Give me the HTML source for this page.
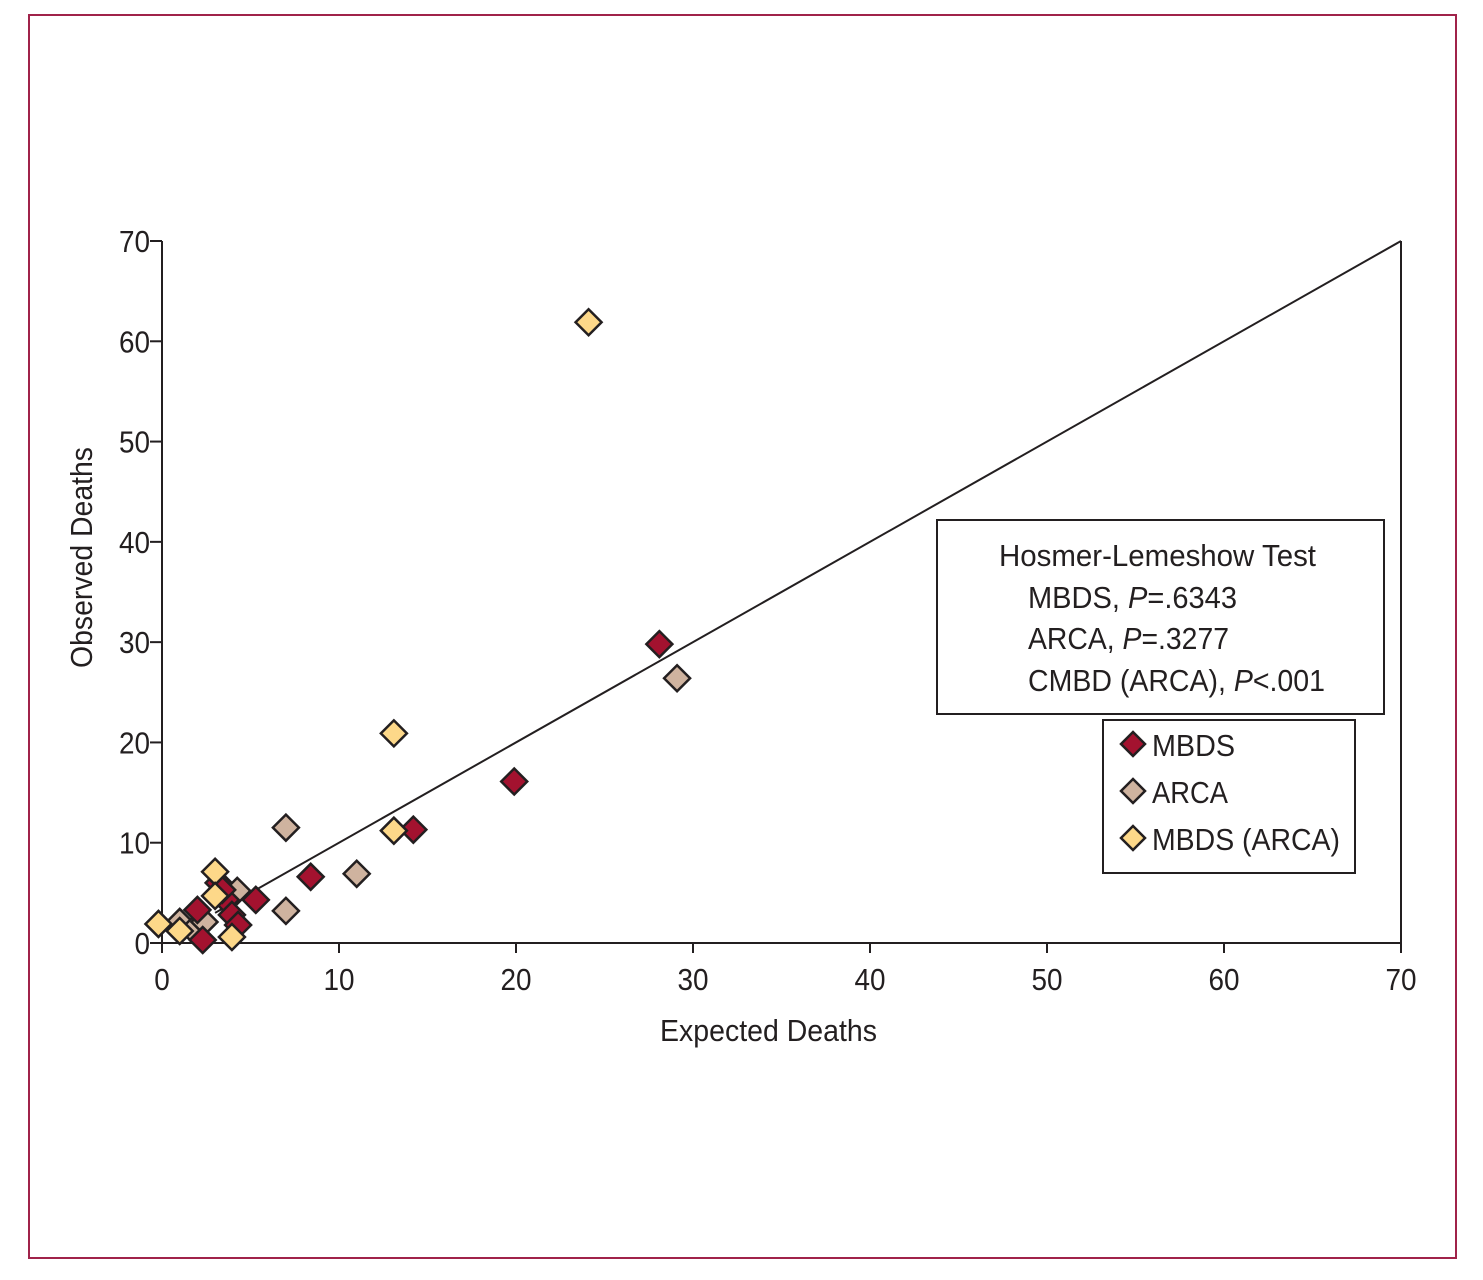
<!DOCTYPE html>
<html><head><meta charset="utf-8"><style>
body{margin:0;background:#fff}
svg text{font-family:"Liberation Sans Narrow","Liberation Sans",sans-serif;fill:#231f20}
</style></head><body>
<svg id="chart" width="1483" height="1275" xmlns="http://www.w3.org/2000/svg">
<rect x="29" y="15" width="1427" height="1243" fill="none" stroke="#a0234a" stroke-width="2"/>
<g id="axes"></g>
<g id="marks"></g>
<rect x="937" y="520" width="447" height="194" fill="#fff" stroke="#231f20" stroke-width="2"/>
<text x="999" y="566" font-size="31" textLength="317" lengthAdjust="spacingAndGlyphs">Hosmer-Lemeshow Test</text>
<text x="1028" y="608" font-size="31" textLength="209" lengthAdjust="spacingAndGlyphs">MBDS, <tspan font-style="italic">P</tspan>=.6343</text>
<text x="1028" y="649" font-size="31" textLength="201" lengthAdjust="spacingAndGlyphs">ARCA, <tspan font-style="italic">P</tspan>=.3277</text>
<text x="1028" y="691" font-size="31" textLength="297" lengthAdjust="spacingAndGlyphs">CMBD (ARCA), <tspan font-style="italic">P</tspan>&lt;.001</text>
<rect x="1103" y="720" width="252" height="153" fill="#fff" stroke="#231f20" stroke-width="2"/>
<g id="legend"></g>
<text x="660" y="1041" font-size="31" textLength="217" lengthAdjust="spacingAndGlyphs">Expected Deaths</text>
<text transform="translate(92,668) rotate(-90)" font-size="31" textLength="221" lengthAdjust="spacingAndGlyphs">Observed Deaths</text>
</svg>
<script>
const xTicks=[0,10,20,30,40,50,60,70];
const yTicks=[0,10,20,30,40,50,60,70];
const seriesNames=["MBDS","ARCA","MBDS (ARCA)"];
const seriesColors=["#a3122f","#cfb39f","#fdd889"];
const legendWidths=[83,76,188];
const mbdsX=[2.0,2.3,3.2,3.6,3.95,4.3,5.3,8.4,14.2,19.9,28.1,3.4];
const mbdsY=[3.3,0.3,6.0,4.3,2.8,1.8,4.3,6.6,11.3,16.1,29.8,5.3];
const arcaX=[1.0,1.75,2.4,4.25,7.0,7.0,11.0,29.1];
const arcaY=[2.1,1.3,2.1,5.2,11.5,3.2,6.9,26.4];
const cmbdX=[-0.2,1.0,3.0,3.0,3.95,13.1,13.1,24.1];
const cmbdY=[1.9,1.2,7.1,4.7,0.6,20.9,11.2,61.9];
const NS="http://www.w3.org/2000/svg";
const X=v=>162+v*(1401-162)/70, Y=v=>943-v*(943-241)/70;
function mk(tag,at,parent){const e=document.createElementNS(NS,tag);for(const k in at)e.setAttribute(k,at[k]);parent.appendChild(e);return e;}
const ax=document.getElementById('axes');
let e=mk('path',{d:`M${X(0)},${Y(70)}V${Y(0)}H${X(70)}V${Y(70)}`,fill:'none',stroke:'#231f20','stroke-width':2},ax);


xTicks.forEach(t=>{
 let l=mk('line',{x1:X(t),x2:X(t),y1:Y(0),y2:Y(0)+10,stroke:'#231f20','stroke-width':2},ax);
 
 
 let s=mk('text',{x:X(t),y:990,'font-size':31,'text-anchor':'middle',transform:`translate(${X(t)*0.1},0) scale(0.9,1)`},ax);s.textContent=t;
 
 
});
yTicks.forEach(t=>{
 let l=mk('line',{x1:X(0)-12,x2:X(0),y1:Y(t),y2:Y(t),stroke:'#231f20','stroke-width':2},ax);
 
 
 let s=mk('text',{x:150,y:Y(t)+11,'font-size':31,'text-anchor':'end',transform:'translate(15,0) scale(0.9,1)'},ax);s.textContent=t;
 
 
});
let d=mk('line',{x1:X(3),y1:Y(3),x2:X(70),y2:Y(70),stroke:'#231f20','stroke-width':2},ax);


const mg=document.getElementById('marks');
function dia(cx,cy,r,fill,parent){return mk('path',{d:`M${cx},${cy-r}L${cx+r},${cy}L${cx},${cy+r}L${cx-r},${cy}Z`,fill:fill,stroke:'#231f20','stroke-width':2.5},parent);}
[[arcaX,arcaY,1],[mbdsX,mbdsY,0],[cmbdX,cmbdY,2]].forEach(([xs,ys,si])=>{
 xs.forEach((x,i)=>{
  let p=dia(X(x),Y(ys[i]),13,seriesColors[si],mg);
  
  
 });
});
const lg=document.getElementById('legend');
seriesNames.forEach((n,i)=>{
 const cy=744+i*47;
 let p=dia(1133,cy,12,seriesColors[i],lg);
 
 
 let t=mk('text',{x:1152,y:cy+12,'font-size':31,textLength:legendWidths[i],lengthAdjust:'spacingAndGlyphs'},lg);t.textContent=n;
 
 
});
</script>
</body></html>
